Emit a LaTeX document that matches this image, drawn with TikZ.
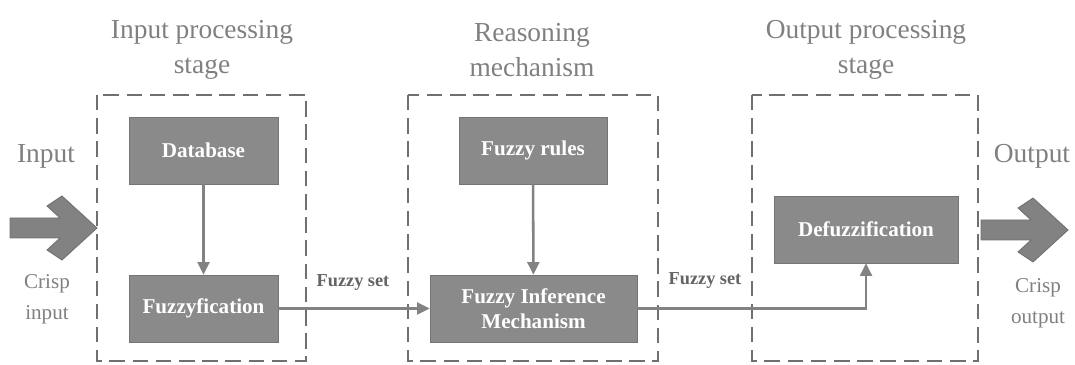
\documentclass[tikz,border=0pt]{standalone}
\usepackage{fontspec}
\setmainfont{Liberation Serif}
\usetikzlibrary{arrows.meta}
\definecolor{boxgray}{RGB}{138,138,138}
\definecolor{linegray}{RGB}{130,130,130}
\definecolor{dashgray}{RGB}{112,112,112}
\definecolor{textgray}{RGB}{128,128,128}
\definecolor{labelgray}{RGB}{100,100,100}
\begin{document}
\begin{tikzpicture}[x=0.025cm, y=-0.025cm,
  block/.style={draw=boxgray!85!black, fill=boxgray, text=white, inner sep=0pt,
    minimum height=1.675cm, align=center, font=\fontsize{15}{18}\selectfont\bfseries},
  stage/.style={draw=dashgray, line width=2pt, dash pattern=on 11pt off 5.5pt},
  flow/.style={draw=linegray, line width=1.8pt, -{Triangle[length=9pt,width=8.5pt]}},
  title/.style={text=textgray, align=center, font=\fontsize{19.5}{25}\selectfont},
  side/.style={text=textgray, align=center, font=\fontsize{15}{22}\selectfont},
  setlabel/.style={text=labelgray, font=\fontsize{13}{15}\selectfont\bfseries},
  bigarrow/.style={fill=linegray, draw=dashgray, line width=0.6pt}]
\def\fatarrow{(-87,-10) -- (-37,-10) -- (-50,-22) -- (-35,-32) -- (0,0)
  -- (-35,32) -- (-50,22) -- (-37,10) -- (-87,10) -- cycle}
\useasboundingbox (0,0) rectangle (1075,365);

% stages
\draw[stage] (97,95) rectangle (306,361);
\draw[stage] (408,95) rectangle (658,361);
\draw[stage] (752,95) rectangle (978,361);

\node[title] (t1) at (202,50) {Input processing\\stage};
\node[title] (t2) at (532,50) {Reasoning\\mechanism};
\node[title] (t3) at (866,50) {Output processing\\stage};

% blocks
\node[block, minimum width=3.725cm] (db) at (203.5,150.5) {Database};
\node[block, minimum width=3.725cm] (fz) at (203.5,308.5) {Fuzzyfication};
\node[block, minimum width=3.7cm] (rules) at (533,150.5) {Fuzzy rules};
\node[block, minimum width=5.175cm] (inf) at (533.5,308.5) {Fuzzy Inference\\Mechanism};
\node[block, minimum width=4.6cm] (def) at (866,229.5) {Defuzzification};

% connectors
\draw[flow] (db) -- (fz);
\draw[flow] (rules) -- (inf);
\draw[flow] (fz) -- (inf);
\draw[flow] (inf) -| (def);

\node[setlabel] (s1) at (353,282) {Fuzzy set};
\node[setlabel] (s2) at (705,280) {Fuzzy set};

% input and output
\filldraw[bigarrow, shift={(97,228)}] \fatarrow;
\filldraw[bigarrow, shift={(1068,230)}] \fatarrow;

\node[title] (in) at (46,156) {Input};
\node[side] (cin) at (47,299) {Crisp\\input};
\node[title] (out) at (1032,156) {Output};
\node[side] (cout) at (1038,303) {Crisp\\output};

\end{tikzpicture}
\end{document}
